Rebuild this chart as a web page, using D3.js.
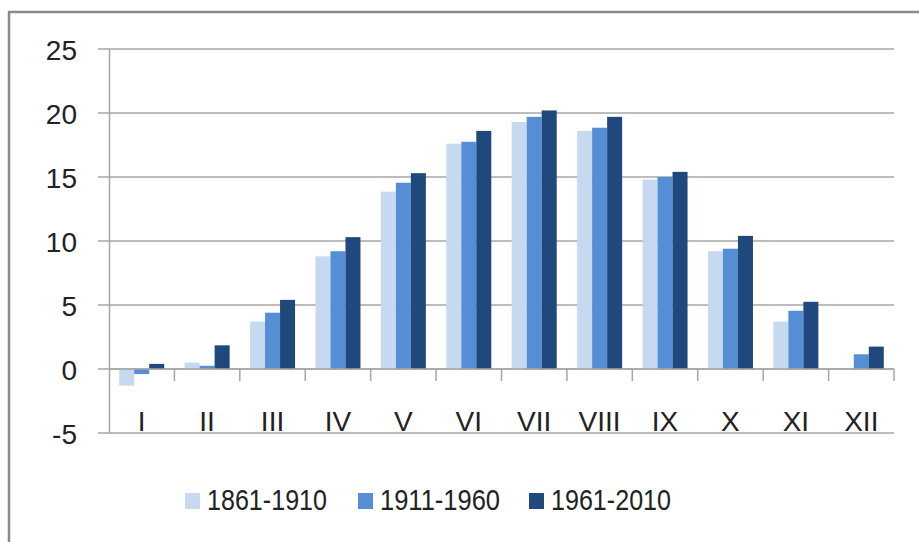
<!DOCTYPE html>
<html>
<head>
<meta charset="utf-8">
<script src="https://cdn.jsdelivr.net/npm/d3@7"></script>
<style>
  body { margin: 0; background: #fff; }
  svg text { font-family: "Liberation Sans Narrow", "Liberation Sans", sans-serif; fill: #222; }
</style>
</head>
<body>
<svg id="chart" width="919" height="542"></svg>
<script>
const months = ['I', 'II', 'III', 'IV', 'V', 'VI', 'VII', 'VIII', 'IX', 'X', 'XI', 'XII'];
const periods = ['1861-1910', '1911-1960', '1961-2010'];
const p1861 = [-1.3, 0.5, 3.7, 8.8, 13.85, 17.6, 19.3, 18.6, 14.8, 9.2, 3.7, 0.0];
const p1911 = [-0.4, 0.25, 4.4, 9.2, 14.55, 17.75, 19.7, 18.85, 15.0, 9.4, 4.55, 1.15];
const p1961 = [0.4, 1.85, 5.4, 10.3, 15.3, 18.6, 20.2, 19.7, 15.4, 10.4, 5.25, 1.75];
const yTicks = [-5, 0, 5, 10, 15, 20, 25];
const colors = ['#c6d9f1', '#558ed5', '#1f497d'];

const seriesValues = [p1861, p1911, p1961];

const svg = d3.select('#chart');

// outer frame (only left and top edges visible)
svg.append('path')
  .attr('d', 'M9,542 V12 H919')
  .attr('fill', 'none')
  .attr('stroke', '#8a8a8a')
  .attr('stroke-width', 2.5);

const margin = { left: 109, right: 894, top: 49, bottom: 433 };

const y = d3.scaleLinear().domain([-5, 25]).range([margin.bottom, margin.top]);
const x0 = d3.scaleBand().domain(months).range([margin.left, margin.right]).paddingInner(0).paddingOuter(0);
const x1 = d3.scaleBand().domain(d3.range(periods.length))
  .range([0, x0.bandwidth()]).paddingInner(0).paddingOuter(0.68);

// gridlines
svg.append('g')
  .selectAll('line')
  .data(yTicks)
  .join('line')
  .attr('x1', margin.left - 11)
  .attr('x2', margin.right)
  .attr('y1', d => y(d))
  .attr('y2', d => y(d))
  .attr('stroke', '#a6a6a6')
  .attr('stroke-width', 1.5);

// y axis
const yAxis = svg.append('g')
  .attr('transform', `translate(${margin.left},0)`)
  .call(d3.axisLeft(y).tickValues(yTicks).tickFormat(d => String(d)).tickSize(0).tickPadding(32));
yAxis.select('.domain').attr('stroke', '#a6a6a6').attr('stroke-width', 1.5);
yAxis.selectAll('text')
  .style('font-size', '28px')
  .attr('dy', '0.36em');

// bars
const groups = svg.append('g')
  .selectAll('g')
  .data(months)
  .join('g')
  .attr('transform', d => `translate(${x0(d)},0)`);

groups.selectAll('rect')
  .data((m, i) => seriesValues.map((s, k) => ({ k, v: s[i] })))
  .join('rect')
  .attr('x', d => x1(d.k))
  .attr('width', x1.bandwidth())
  .attr('y', d => y(Math.max(0, d.v)))
  .attr('height', d => Math.abs(y(d.v) - y(0)))
  .attr('fill', d => colors[d.k]);

// category axis at zero
const xAxisG = svg.append('g')
  .attr('transform', `translate(0,${y(0)})`);
xAxisG.append('line')
  .attr('x1', margin.left)
  .attr('x2', margin.right)
  .attr('stroke', '#a6a6a6')
  .attr('stroke-width', 1.5);
xAxisG.selectAll('.tick')
  .data(months.map(m => x0(m)).concat([margin.right]).slice(1))
  .join('line')
  .attr('class', 'tick')
  .attr('x1', d => d)
  .attr('x2', d => d)
  .attr('y1', 0)
  .attr('y2', 12)
  .attr('stroke', '#a6a6a6')
  .attr('stroke-width', 1.5);

svg.append('g')
  .selectAll('text')
  .data(months)
  .join('text')
  .attr('x', d => x0(d) + x0.bandwidth() / 2)
  .attr('y', 431)
  .attr('text-anchor', 'middle')
  .style('font-size', '28px')
  .text(d => d);

// legend
const legendX = [185, 358, 529];
const legend = svg.append('g')
  .selectAll('g')
  .data(periods)
  .join('g')
  .attr('transform', (d, i) => `translate(${legendX[i]},0)`);
legend.append('rect')
  .attr('x', 0)
  .attr('y', 493)
  .attr('width', 15)
  .attr('height', 16)
  .attr('fill', (d, i) => colors[i]);
legend.append('text')
  .attr('x', 22)
  .attr('y', 510)
  .attr('textLength', 120)
  .attr('lengthAdjust', 'spacingAndGlyphs')
  .style('font-size', '30px')
  .text(d => d);
</script>
</body>
</html>
